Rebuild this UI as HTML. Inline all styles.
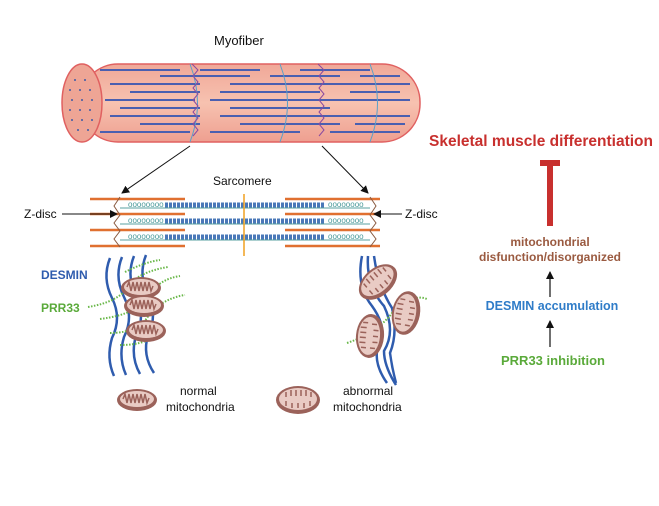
<!DOCTYPE html>
<html><head><meta charset="utf-8"><style>
html,body{margin:0;padding:0;background:#fff}
svg{display:block}
text{font-family:"Liberation Sans",sans-serif}
</style></head><body>
<svg width="659" height="506" viewBox="0 0 659 506" xmlns="http://www.w3.org/2000/svg">
<defs>
<marker id="ah" markerWidth="8" markerHeight="8" refX="7" refY="4" orient="auto" markerUnits="userSpaceOnUse"><path d="M0,0 L8,4 L0,8 z" fill="#111"/></marker>
<g id="mito">
<ellipse cx="0" cy="0" rx="20" ry="11" fill="#9b625a"/>
<ellipse cx="0" cy="-1" rx="17" ry="8" fill="#e9cbc4"/>
<path d="M-14,-1 l2,-5 l2,9 l2,-9 l2,9 l2,-9 l2,9 l2,-9 l2,9 l2,-9 l2,9 l2,-9 l2,9 l2,-5" fill="none" stroke="#9b625a" stroke-width="1.5"/>
</g>
<g id="mitoA">
<ellipse cx="0" cy="0" rx="22" ry="14" fill="#9b625a"/>
<ellipse cx="0" cy="-1" rx="19" ry="11" fill="#e9cbc4"/>
<path d="M-12,-8 v5 M-7,-10 v6 M-2,-10 v6 M3,-10 v6 M8,-10 v6 M13,-8 v5 M-12,6 v-5 M-6,8 v-5 M0,8 v-5 M6,8 v-5 M12,6 v-5" stroke="#9b625a" stroke-width="1.5"/>
</g>
<linearGradient id="fib" x1="0" y1="0" x2="0" y2="1">
<stop offset="0" stop-color="#f0a898"/><stop offset="0.5" stop-color="#f7c2b0"/><stop offset="1" stop-color="#ee9f90"/></linearGradient>
</defs>

<text x="214" y="45" font-size="13" fill="#111">Myofiber</text>
<rect x="80" y="64" width="340" height="78" rx="38" fill="url(#fib)" stroke="#e06060" stroke-width="1.5"/>
<g stroke="#4a5fb0" stroke-width="2">
<path d="M100,70h80M200,70h60M160,76h90M270,76h70M110,84h90M230,84h110M130,92h70M220,92h100M105,100h90M210,100h150M120,108h80M230,108h100M110,116h90M220,116h130M140,124h60M240,124h100M100,132h90M210,132h90M300,70h70M330,84h80M340,100h70M340,116h70M330,132h70M350,92h50M355,124h50M360,76h40"/>
</g>
<path d="M190,64 q15,39 0,78 M280,64 q15,39 0,78 M370,64 q15,39 0,78" stroke="#5aa0c8" stroke-width="1" fill="none"/>
<path d="M192,64 l6,6 -5,6 5,6 -5,6 5,6 -5,6 5,6 -5,6 5,6 -5,6 5,6 -5,6 M318,64 l6,6 -5,6 5,6 -5,6 5,6 -5,6 5,6 -5,6 5,6 -5,6 5,6 -5,6" stroke="#8a4aa0" stroke-width="1" fill="none"/>
<ellipse cx="82" cy="103" rx="20" ry="39" fill="#eea595" stroke="#e06060" stroke-width="1.5"/>
<g fill="#3a5aa8">
<circle cx="75" cy="80" r="1"/><circle cx="85" cy="80" r="1"/><circle cx="70" cy="90" r="1"/><circle cx="80" cy="90" r="1"/><circle cx="90" cy="90" r="1"/><circle cx="72" cy="100" r="1"/><circle cx="82" cy="100" r="1"/><circle cx="92" cy="100" r="1"/><circle cx="70" cy="110" r="1"/><circle cx="80" cy="110" r="1"/><circle cx="90" cy="110" r="1"/><circle cx="72" cy="120" r="1"/><circle cx="82" cy="120" r="1"/><circle cx="92" cy="120" r="1"/><circle cx="78" cy="130" r="1"/><circle cx="88" cy="130" r="1"/>
</g>
<line x1="190" y1="146" x2="122" y2="193" stroke="#111" stroke-width="1" marker-end="url(#ah)"/>
<line x1="322" y1="146" x2="368" y2="193" stroke="#111" stroke-width="1" marker-end="url(#ah)"/>
<text x="213" y="185" font-size="12" fill="#111">Sarcomere</text>

<g stroke="#e07030" stroke-width="2.5">
<path d="M90,199h95M90,214h95M90,230h95M90,246h95M285,199h95M285,214h95M285,230h95M285,246h95"/>
</g>
<path d="M120,197 l-6,9 6,9 -6,8 6,8 -6,8 6,8 M370,197 l6,9 -6,9 6,8 -6,8 6,8 -6,8" stroke="#8a5a40" fill="none" stroke-width="1"/>
<g stroke="#5aa0a0" stroke-width="1">
<path d="M120,208h250M120,224h250M120,240h250"/>
</g>
<g font-size="8" fill="#4a9a9a"><text x="128" y="207">oooooooo</text><text x="128" y="223">oooooooo</text><text x="128" y="239">oooooooo</text><text x="328" y="207">oooooooo</text><text x="328" y="223">oooooooo</text><text x="328" y="239">oooooooo</text></g>
<g stroke="#4a78b8" stroke-width="5" stroke-dasharray="3 1">
<path d="M165,205h160M165,221h160M165,237h160"/>
</g>
<line x1="244" y1="194" x2="244" y2="256" stroke="#f0a020" stroke-width="1.5"/>
<text x="24" y="218" font-size="12" fill="#111">Z-disc</text>
<line x1="62" y1="214" x2="117" y2="214" stroke="#111" marker-end="url(#ah)"/>
<text x="405" y="218" font-size="12" fill="#111">Z-disc</text>
<line x1="402" y1="214" x2="374" y2="214" stroke="#111" marker-end="url(#ah)"/>

<g stroke="#2f5cae" stroke-width="2.5" fill="none">
<path d="M110,258 q-8,20 2,40 q10,20 0,40 q-6,20 2,38"/>
<path d="M122,257 q-8,20 2,40 q10,20 0,40 q-6,20 2,38"/>
<path d="M134,256 q-8,20 2,40 q10,20 0,40 q-6,20 4,38"/>
<path d="M146,255 q-8,20 2,40 q10,20 0,40 q-6,20 6,38"/>
</g>
<g stroke="#6ab84a" stroke-width="2" stroke-dasharray="1.5 1.5" fill="none">
<path d="M88,307 q30,-5 40,-20 q10,-15 40,-20"/>
<path d="M100,319 q40,-5 50,-25 q10,-15 30,-18"/>
<path d="M110,333 q30,0 40,-20 q15,-15 35,-18"/>
<path d="M120,345 q30,0 40,-15"/>
<path d="M125,272 q20,-10 35,-12"/>
</g>
<use href="#mito" x="141" y="288"/>
<use href="#mito" x="144" y="306"/>
<use href="#mito" x="146" y="331"/>
<text x="41" y="279" font-size="12" font-weight="bold" fill="#2f5cae">DESMIN</text>
<text x="41" y="312" font-size="12" font-weight="bold" fill="#5aaa3a">PRR33</text>

<g stroke="#2f5cae" stroke-width="2.5" fill="none">
<path d="M362,256 q-6,30 10,50 q18,25 5,45 q-2,15 10,32"/>
<path d="M368,256 q-2,30 16,50 q12,25 0,45 q0,15 12,34"/>
<path d="M374,256 q4,30 18,52 q6,25 -2,45 q2,15 6,30"/>
</g>
<path d="M347,343 q30,-10 45,-30 q20,-20 35,-14" stroke="#6ab84a" stroke-width="2" stroke-dasharray="1.5 1.5" fill="none"/>
<use href="#mitoA" transform="translate(378,282) rotate(-40)"/>
<use href="#mitoA" transform="translate(406,313) rotate(-80)"/>
<use href="#mitoA" transform="translate(370,336) rotate(-85)"/>

<use href="#mito" x="137" y="400"/>
<text x="180" y="395" font-size="12" fill="#111">normal</text>
<text x="166" y="411" font-size="12" fill="#111">mitochondria</text>
<use href="#mitoA" x="298" y="400"/>
<text x="343" y="395" font-size="12" fill="#111">abnormal</text>
<text x="333" y="411" font-size="12" fill="#111">mitochondria</text>

<text x="541" y="146" font-size="15.5" font-weight="bold" fill="#c8302e" text-anchor="middle">Skeletal muscle differentiation</text>
<rect x="540" y="160" width="20" height="6" fill="#c8302e"/>
<rect x="547" y="160" width="6" height="66" fill="#c8302e"/>
<text x="550" y="246" font-size="12" font-weight="bold" fill="#9a5a40" text-anchor="middle">mitochondrial</text>
<text x="550" y="261" font-size="12" font-weight="bold" fill="#9a5a40" text-anchor="middle">disfunction/disorganized</text>
<line x1="550" y1="297" x2="550" y2="272" stroke="#111" stroke-width="1.2" marker-end="url(#ah)"/>
<text x="552" y="310" font-size="12.5" font-weight="bold" fill="#2f7cc8" text-anchor="middle">DESMIN accumulation</text>
<line x1="550" y1="347" x2="550" y2="321" stroke="#111" stroke-width="1.2" marker-end="url(#ah)"/>
<text x="553" y="365" font-size="13" font-weight="bold" fill="#5aaa3a" text-anchor="middle">PRR33 inhibition</text>
</svg>
</body></html>
